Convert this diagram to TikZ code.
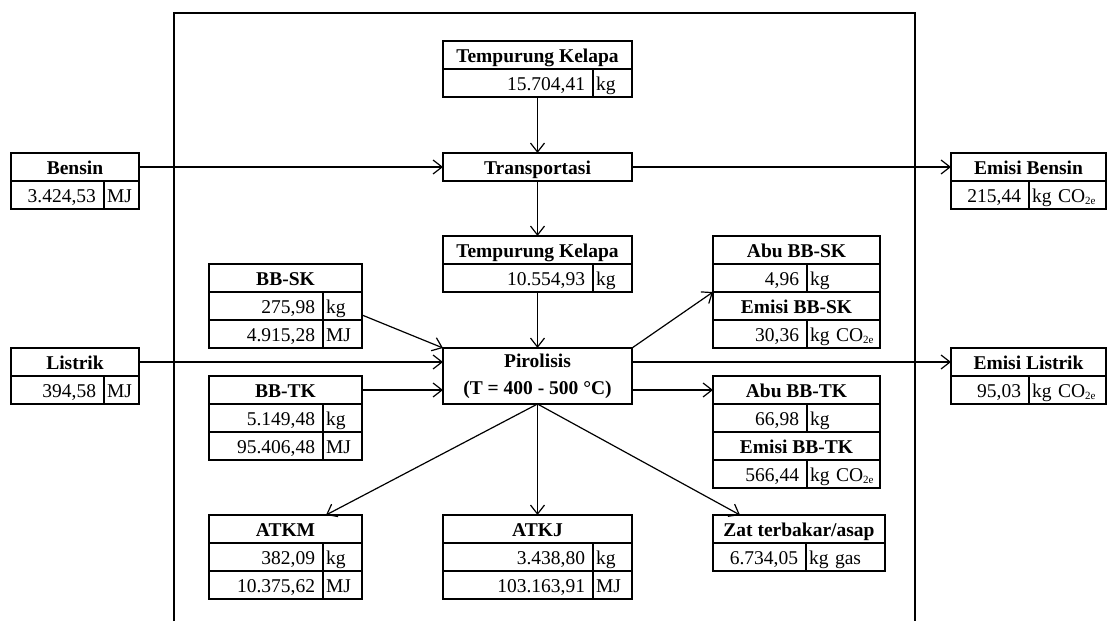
\documentclass[tikz,border=0pt]{standalone}
\usepackage{fontspec}
\setmainfont{Liberation Serif}
\usetikzlibrary{arrows.meta}
\newcommand{\coe}{\mbox{kg CO\raisebox{-2.5pt}{\fontsize{11}{11}\selectfont 2e}}}

\begin{document}
\fontsize{19.5}{22}\selectfont
\begin{tikzpicture}[x=1pt, y=-1pt,
    cell/.style={draw, line width=1.2pt, inner sep=0pt, outer sep=0pt, minimum height=28pt, text height=16pt, text depth=2pt, anchor=north west},
    hdr/.style={cell, minimum width=#1, font=\bfseries},
    num/.style={cell, text width=#1, inner xsep=8pt, align=right},
    unit/.style={cell, text width=#1, inner xsep=3pt, align=left},
    flow/.style={line width=1.2pt, -{Straight Barb[length=9pt, width=14pt]}}
]
\useasboundingbox (0,0) rectangle (1107,621);
\draw[line width=1.5pt] (174,621) -- (174,13) -- (915,13) -- (915,621);

\node[hdr=189pt] (tk) at (443,41) {Tempurung Kelapa};
\node[num=134pt] (tkv) at (tk.south west) {15.704,41};
\node[unit=33pt] (tku) at (tkv.north east) {kg};

\node[hdr=189pt] (trans) at (443,153) {Transportasi};

\node[hdr=128pt] (bensin) at (11,153) {Bensin};
\node[num=77pt] (bensinv) at (bensin.south west) {3.424,53};
\node[unit=29pt] (bensinu) at (bensinv.north east) {MJ};

\node[hdr=155pt] (emb) at (951,153) {Emisi Bensin};
\node[num=62pt] (embv) at (emb.south west) {215,44};
\node[unit=71pt] (embu) at (embv.north east) {\coe};

\node[hdr=189pt] (tkb) at (443,236) {Tempurung Kelapa};
\node[num=134pt] (tkbv) at (tkb.south west) {10.554,93};
\node[unit=33pt] (tkbu) at (tkbv.north east) {kg};

\node[hdr=153pt] (bbsk) at (209,264) {BB-SK};
\node[num=98pt] (bbskkg) at (bbsk.south west) {275,98};
\node[unit=33pt] (bbskkgu) at (bbskkg.north east) {kg};
\node[num=98pt] (bbskmj) at (bbskkg.south west) {4.915,28};
\node[unit=33pt] (bbskmju) at (bbskmj.north east) {MJ};

\node[draw, line width=1.2pt, inner sep=0pt, outer sep=0pt, anchor=north west, minimum width=189pt, minimum height=56pt,
      align=center, font=\bfseries\fontsize{19.5}{27}\selectfont] (pir) at (443,348) {Pirolisis\\(T = 400 - 500 °C)};

\node[hdr=128pt] (lis) at (11,348) {Listrik};
\node[num=77pt] (lisv) at (lis.south west) {394,58};
\node[unit=29pt] (lisu) at (lisv.north east) {MJ};

\node[hdr=155pt] (eml) at (951,348) {Emisi Listrik};
\node[num=62pt] (emlv) at (eml.south west) {95,03};
\node[unit=71pt] (emlu) at (emlv.north east) {\coe};

\node[hdr=153pt] (bbtk) at (209,376) {BB-TK};
\node[num=98pt] (bbtkkg) at (bbtk.south west) {5.149,48};
\node[unit=33pt] (bbtkkgu) at (bbtkkg.north east) {kg};
\node[num=98pt] (bbtkmj) at (bbtkkg.south west) {95.406,48};
\node[unit=33pt] (bbtkmju) at (bbtkmj.north east) {MJ};

\node[hdr=167pt] (abusk) at (713,236) {Abu BB-SK};
\node[num=78pt] (abuskv) at (abusk.south west) {4,96};
\node[unit=67pt] (abusku) at (abuskv.north east) {kg};
\node[hdr=167pt] (emsk) at (abuskv.south west) {Emisi BB-SK};
\node[num=78pt] (emskv) at (emsk.south west) {30,36};
\node[unit=67pt] (emsku) at (emskv.north east) {\coe};

\node[hdr=167pt] (abutk) at (713,376) {Abu BB-TK};
\node[num=78pt] (abutkv) at (abutk.south west) {66,98};
\node[unit=67pt] (abutku) at (abutkv.north east) {kg};
\node[hdr=167pt] (emtk) at (abutkv.south west) {Emisi BB-TK};
\node[num=78pt] (emtkv) at (emtk.south west) {566,44};
\node[unit=67pt] (emtku) at (emtkv.north east) {\coe};

\node[hdr=153pt] (atkm) at (209,515) {ATKM};
\node[num=98pt] (atkmkg) at (atkm.south west) {382,09};
\node[unit=33pt] (atkmkgu) at (atkmkg.north east) {kg};
\node[num=98pt] (atkmmj) at (atkmkg.south west) {10.375,62};
\node[unit=33pt] (atkmmju) at (atkmmj.north east) {MJ};

\node[hdr=189pt] (atkj) at (443,515) {ATKJ};
\node[num=134pt] (atkjkg) at (atkj.south west) {3.438,80};
\node[unit=33pt] (atkjkgu) at (atkjkg.north east) {kg};
\node[num=134pt] (atkjmj) at (atkjkg.south west) {103.163,91};
\node[unit=33pt] (atkjmju) at (atkjmj.north east) {MJ};

\node[hdr=172pt] (zat) at (713,515) {Zat terbakar/asap};
\node[num=77pt] (zatv) at (zat.south west) {6.734,05};
\node[unit=73pt] (zatu) at (zatv.north east) {kg gas};

\draw[flow] (tk.center |- tkv.south) -- (trans.north);
\draw[flow] (bensin.east) -- (trans.west);
\draw[flow] (trans.east) -- (emb.west);
\draw[flow] (trans.south) -- (tkb.north);
\draw[flow] (tkb.center |- tkbv.south) -- (pir.north);
\draw[flow] ([yshift=-9pt]bbskkgu.east) -- (pir.north west);
\draw[flow] (lis.east) -- (lis.east -| pir.west);
\draw[flow] (bbtk.east) -- (bbtk.east -| pir.west);
\draw[flow] (pir.north east) -- (abuskv.south west);
\draw[flow] (eml.west -| pir.east) -- (eml.west);
\draw[flow] (abutk.west -| pir.east) -- (abutk.west);
\draw[flow] (pir.south) -- (atkj.north);
\draw[flow] (pir.south) -- ([xshift=-36pt]atkm.north east);
\draw[flow] (pir.south) -- ([xshift=27pt]zat.north west);
\end{tikzpicture}
\end{document}
